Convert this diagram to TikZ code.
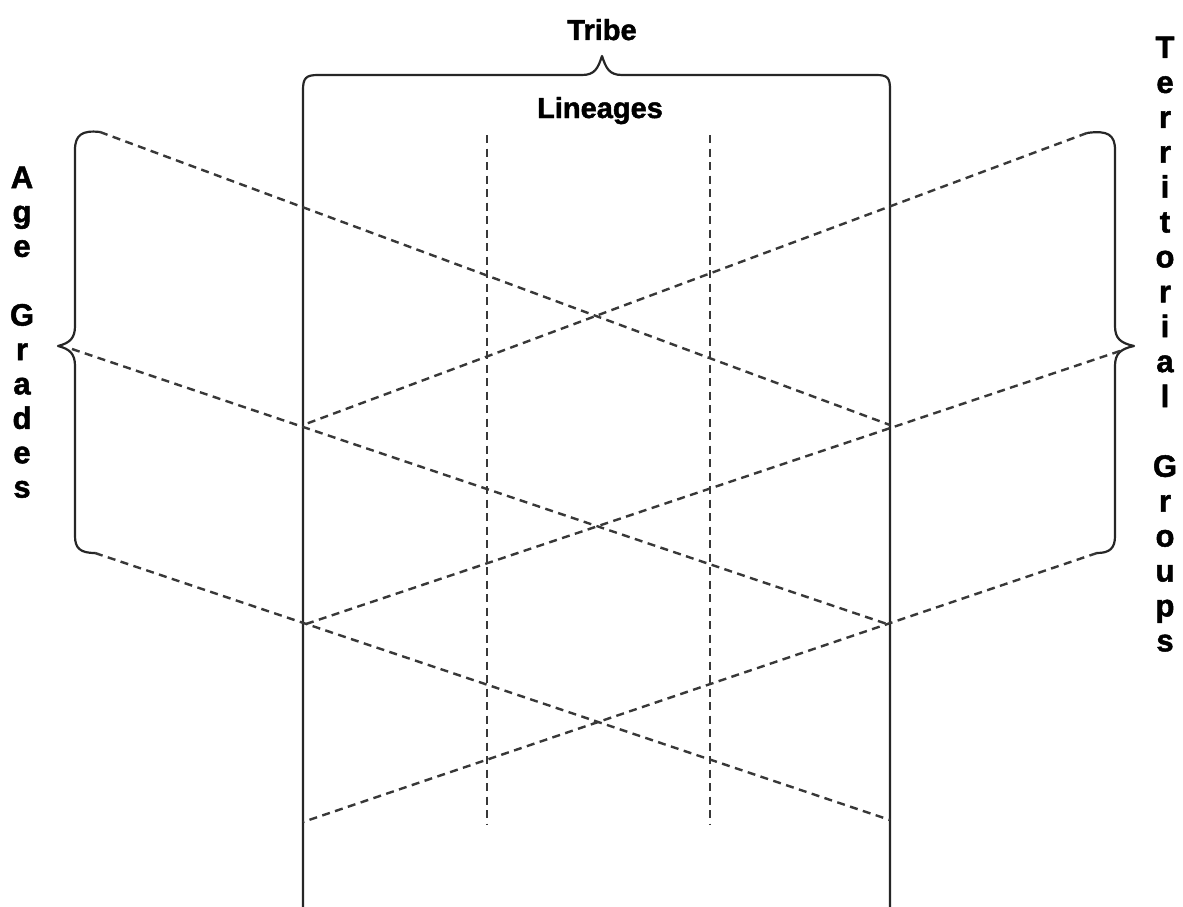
\documentclass[tikz,border=0pt]{standalone}
\usepackage{fontspec}
\setmainfont{Liberation Sans}[BoldFeatures={FakeBold=1.6}]
\begin{document}
\begin{tikzpicture}[x=1pt,y=-1pt,
  solidln/.style={line width=2.2pt, draw=black!85, line join=round},
  dsh/.style={dash pattern=on 8pt off 5.5pt, line width=2.4pt, draw=black!78},
  lbl/.style={font=\bfseries\fontsize{29}{31}\selectfont, inner sep=0pt, anchor=base},
  letter/.style={font=\bfseries\fontsize{31}{33}\selectfont, inner sep=0pt, anchor=base}]
\useasboundingbox (0,0) rectangle (1183,907);
\fill[white] (0,0) rectangle (1183,907);

% frame coordinates
\coordinate (BL) at (303,907);
\coordinate (BR) at (890,907);
\coordinate (tip) at (602,56);

% top brace with the two solid verticals
\draw[solidln] (BL) -- (303,90) .. controls (303,78) and (306,75) .. (318,75) -- (582,75)
  .. controls (595,75) and (598,68) .. (tip)
  .. controls (606,68) and (609,75) .. (622,75) -- (876,75)
  .. controls (888,75) and (890,78) .. (890,90) -- (BR);

% dashed lineage verticals
\coordinate (la) at (487,135); \coordinate (lb) at (487,825);
\coordinate (ma) at (710,135); \coordinate (mb) at (710,825);
\draw[dsh] (la) -- (lb);
\draw[dsh] (ma) -- (mb);

% left brace
\draw[solidln] (100,132) .. controls (82,130) and (75,135) .. (75,150) -- (75,326)
  .. controls (75,338) and (70,343) .. (58,346)
  .. controls (70,349) and (75,354) .. (75,366) -- (75,536)
  .. controls (75,548) and (80,553) .. (95,553);

% right brace
\draw[solidln] (1087,133) .. controls (1108,130) and (1115,135) .. (1115,150) -- (1115,326)
  .. controls (1115,338) and (1120,343) .. (1134,346)
  .. controls (1120,349) and (1115,354) .. (1115,366) -- (1115,536)
  .. controls (1115,548) and (1110,553) .. (1097,553);

% diagonal endpoints
\coordinate (a1) at (100,132);  \coordinate (a1e) at (890,425);
\coordinate (a2) at (72,349);   \coordinate (a2e) at (890,625);
\coordinate (a3) at (95,553);   \coordinate (a3e) at (890,820);
\coordinate (t1) at (1087,133); \coordinate (t1e) at (303,425);
\coordinate (t2) at (1120,351); \coordinate (t2e) at (303,625);
\coordinate (t3) at (1097,553); \coordinate (t3e) at (303,822);
\draw[dsh] (a1) -- (a1e);
\draw[dsh] (a2) -- (a2e);
\draw[dsh] (a3) -- (a3e);
\draw[dsh] (t1) -- (t1e);
\draw[dsh] (t2) -- (t2e);
\draw[dsh] (t3) -- (t3e);

% labels
\node[lbl] (tribe) at (602,40) {Tribe};
\node[lbl] (lineages) at (600,118) {Lineages};

\foreach \ch/\k in {A/0,g/1,e/2,G/4,r/5,a/6,d/7,e/8,s/9}
  \node[letter] (ag\k) at (22,{188+34.4*\k}) {\ch};
\foreach \ch/\k in {T/0,e/1,r/2,r/3,i/4,t/5,o/6,r/7,i/8,a/9,l/10,G/12,r/13,o/14,u/15,p/16,s/17}
  \node[letter] (tg\k) at (1165,{58+34.9*\k}) {\ch};
\end{tikzpicture}
\end{document}
